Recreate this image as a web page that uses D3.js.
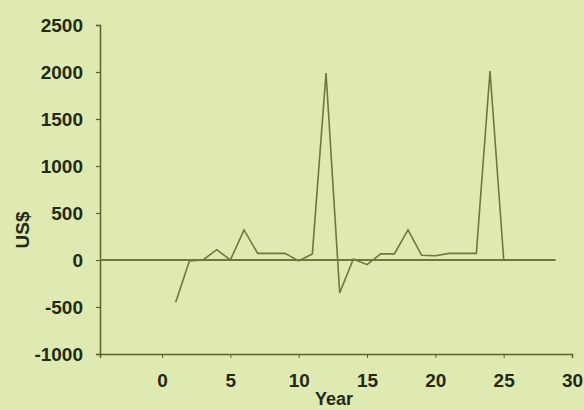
<!DOCTYPE html>
<html><head><meta charset="utf-8">
<script src="https://cdn.jsdelivr.net/npm/d3@7"></script>
<style>
html,body{margin:0;padding:0;background:#dfeab2;}
svg{display:block;}
text{font-family:"Liberation Sans",Arial,sans-serif;font-weight:bold;fill:#222a14;}
</style></head>
<body><svg id="c" width="584" height="410"></svg>
<script>
const years = [1,2,3,4,5,6,7,8,9,10,11,12,13,14,15,16,17,18,19,20,21,22,23,24,25];
const values = [-450,-10,0,110,0,320,70,70,70,-10,65,1990,-350,10,-50,65,65,320,50,45,70,70,70,2010,10];
const xTicks = [0,5,10,15,20,25,30];
const yTicks = [-1000,-500,0,500,1000,1500,2000,2500];
const xLabel = "Year";
const yLabel = "US$";

const svg = d3.select("#c");
const x = d3.scaleLinear().domain([-4.54, 30]).range([100, 572]);
const y = d3.scaleLinear().domain([-1000, 2500]).range([354, 25]);
const axisCol = "#55652b";
const lineCol = "#6a7a3a";
const fmt = d => String(d);

// y axis
const ya = svg.append("g").attr("transform","translate(100,0)")
  .call(d3.axisLeft(y).tickValues(yTicks).tickSize(4).tickPadding(13).tickFormat(fmt));
ya.select(".domain").attr("stroke",axisCol).attr("stroke-width",1.5);
ya.selectAll(".tick line").attr("stroke",axisCol).attr("stroke-width",1.2);
ya.selectAll("text").style("font-size","19px").attr("fill","#222a14");

// x axis
const xa = svg.append("g").attr("transform","translate(0,354)")
  .call(d3.axisBottom(x).tickValues(xTicks).tickSize(4).tickPadding(16).tickFormat(fmt));
xa.select(".domain").attr("stroke",axisCol).attr("stroke-width",1.5);
xa.selectAll(".tick line").attr("stroke",axisCol).attr("stroke-width",1);
xa.selectAll("text").style("font-size","19px").attr("fill","#222a14");

// zero line
svg.append("line").attr("x1",x(-4.54)).attr("x2",x(28.8)).attr("y1",y(0)).attr("y2",y(0))
  .attr("stroke",lineCol).attr("stroke-width",2);

// data line
const pts = years.map((d,i)=>[d, values[i]]);
svg.append("path").datum(pts)
  .attr("d", d3.line().x(d=>x(d[0])).y(d=>y(d[1])))
  .attr("fill","none").attr("stroke",lineCol).attr("stroke-width",1.6);

// labels
svg.append("text").attr("x",334).attr("y",405).attr("text-anchor","middle")
  .style("font-size","18px").text(xLabel);
svg.append("text").attr("transform","translate(29,230) rotate(-90)").attr("text-anchor","middle")
  .style("font-size","19px").text(yLabel);
</script></body></html>
